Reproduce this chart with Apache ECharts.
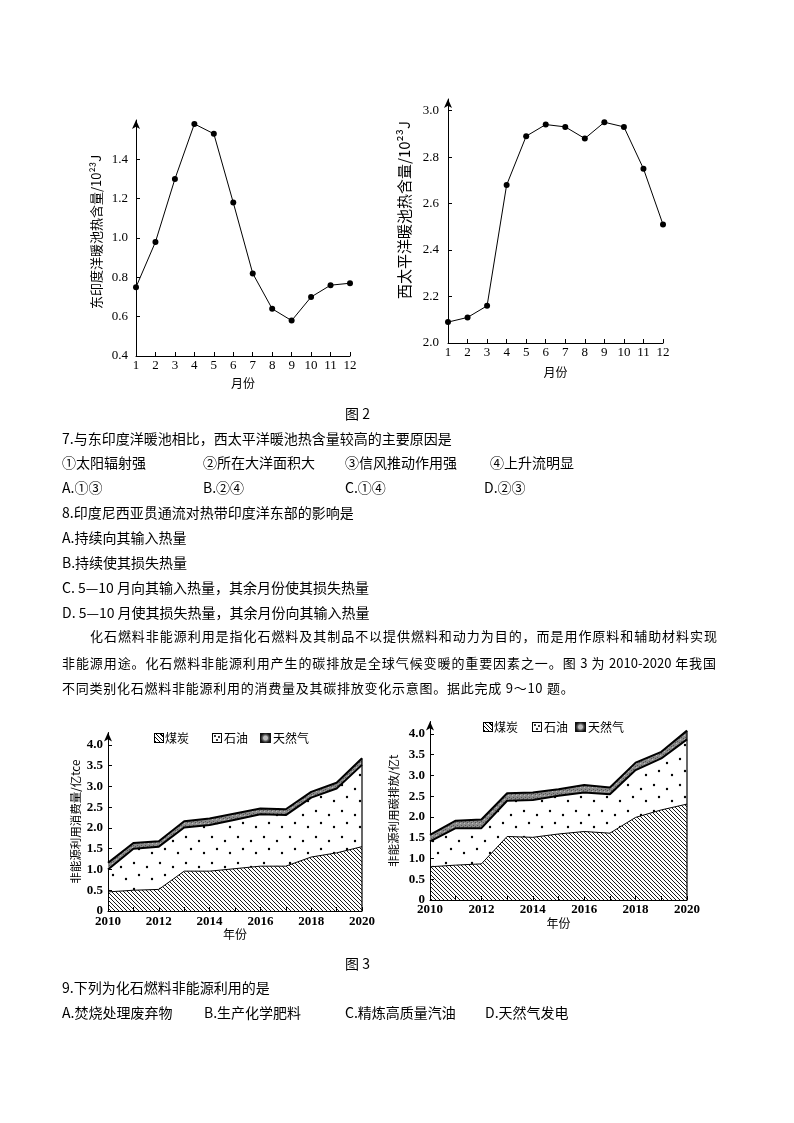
<!DOCTYPE html>
<html><head><meta charset="utf-8">
<script src="https://cdn.jsdelivr.net/npm/echarts@6.0.0/dist/echarts.min.js"></script>
<style>
body{margin:0;background:#fff;}
#c{position:absolute;left:0;top:0;width:794px;height:1123px;}
.t{position:absolute;font-family:"Noto Sans CJK SC";font-size:14px;line-height:18px;color:#000;white-space:nowrap;z-index:2;}
.j{font-size:13px;text-align:justify;text-align-last:justify;white-space:normal;height:18px;overflow:visible;}
.p3{font-size:13px;letter-spacing:0.75px;}
.lg{position:absolute;font-family:"Noto Sans CJK SC";font-size:12px;line-height:14px;color:#000;z-index:2;white-space:nowrap;}
.ic{position:absolute;box-sizing:border-box;z-index:2;}
.coal{border:1px solid #000;background:repeating-linear-gradient(45deg,#000 0 1px,#fff 1px 3px);}
.oil{border:1px solid #000;background:#fff;}
.oil i{position:absolute;width:2px;height:2px;background:#000;border-radius:1px;}
.gas{background:radial-gradient(circle,#bbb 0 2px,#666 3px,#111 5px);}
</style></head><body>
<div id="c"></div>

<div class="t" style="left:345px;top:404px;">图 2</div>
<div class="t" style="left:62px;top:429px;">7.与东印度洋暖池相比，西太平洋暖池热含量较高的主要原因是</div>
<div class="t" style="left:62px;top:453px;">①太阳辐射强</div>
<div class="t" style="left:203px;top:453px;">②所在大洋面积大</div>
<div class="t" style="left:345px;top:453px;">③信风推动作用强</div>
<div class="t" style="left:490px;top:453px;">④上升流明显</div>
<div class="t" style="left:62px;top:478px;">A.①③</div>
<div class="t" style="left:203px;top:478px;">B.②④</div>
<div class="t" style="left:345px;top:478px;">C.①④</div>
<div class="t" style="left:484px;top:478px;">D.②③</div>
<div class="t" style="left:62px;top:503px;">8.印度尼西亚贯通流对热带印度洋东部的影响是</div>
<div class="t" style="left:62px;top:528px;">A.持续向其输入热量</div>
<div class="t" style="left:62px;top:553px;">B.持续使其损失热量</div>
<div class="t" style="left:62px;top:578px;">C. 5—10 月向其输入热量，其余月份使其损失热量</div>
<div class="t" style="left:62px;top:603px;">D. 5—10 月使其损失热量，其余月份向其输入热量</div>
<div class="t j" style="left:90px;top:627px;width:627px;">化石燃料非能源利用是指化石燃料及其制品不以提供燃料和动力为目的，而是用作原料和辅助材料实现</div>
<div class="t j" style="left:62px;top:654px;width:654px;">非能源用途。化石燃料非能源利用产生的碳排放是全球气候变暖的重要因素之一。图 3 为 2010-2020 年我国</div>
<div class="t p3" style="left:62px;top:679px;">不同类别化石燃料非能源利用的消费量及其碳排放变化示意图。据此完成 9～10 题。</div>

<div class="ic coal" style="left:154px;top:733px;width:10px;height:10px;"></div>
<div class="lg" style="left:165px;top:731px;">煤炭</div>
<div class="ic oil" style="left:212px;top:733px;width:10px;height:10px;"><i style="left:1px;top:1px"></i><i style="left:5px;top:2px"></i><i style="left:3px;top:5px"></i></div>
<div class="lg" style="left:224px;top:731px;">石油</div>
<div class="ic gas" style="left:260px;top:733px;width:11px;height:10px;"></div>
<div class="lg" style="left:273px;top:731px;">天然气</div>

<div class="ic coal" style="left:483px;top:722px;width:10px;height:10px;"></div>
<div class="lg" style="left:494px;top:720px;">煤炭</div>
<div class="ic oil" style="left:532px;top:722px;width:10px;height:10px;"><i style="left:1px;top:1px"></i><i style="left:5px;top:2px"></i><i style="left:3px;top:5px"></i></div>
<div class="lg" style="left:544px;top:720px;">石油</div>
<div class="ic gas" style="left:575px;top:722px;width:11px;height:10px;"></div>
<div class="lg" style="left:588px;top:720px;">天然气</div>

<div class="t" style="left:345px;top:954px;">图 3</div>
<div class="t" style="left:62px;top:978px;">9.下列为化石燃料非能源利用的是</div>
<div class="t" style="left:62px;top:1003px;">A.焚烧处理废弃物</div>
<div class="t" style="left:204px;top:1003px;">B.生产化学肥料</div>
<div class="t" style="left:345px;top:1003px;">C.精炼高质量汽油</div>
<div class="t" style="left:485px;top:1003px;">D.天然气发电</div>

<script>
// ---- data ----
const months = ['1','2','3','4','5','6','7','8','9','10','11','12'];
const eastIndianHeat = [0.75,0.98,1.30,1.58,1.53,1.18,0.82,0.64,0.58,0.70,0.76,0.77];
const westPacificHeat = [2.09,2.11,2.16,2.68,2.89,2.94,2.93,2.88,2.95,2.93,2.75,2.51];
const years = ['2010','2011','2012','2013','2014','2015','2016','2017','2018','2019','2020'];
// consumption (亿tce)
const consumeCoal = [0.46,0.50,0.52,0.96,0.96,1.02,1.08,1.08,1.30,1.40,1.55];
const consumeOil  = [0.54,1.00,1.03,1.05,1.11,1.18,1.25,1.23,1.43,1.55,1.97];
const consumeGas  = [0.16,0.14,0.13,0.15,0.16,0.15,0.14,0.14,0.14,0.14,0.16];
// carbon emission (亿t)
const emitCoal = [0.80,0.84,0.87,1.53,1.51,1.59,1.65,1.61,1.99,2.17,2.31];
const emitOil  = [0.61,0.89,0.86,0.86,0.90,0.92,0.94,0.94,1.14,1.24,1.56];
const emitGas  = [0.16,0.18,0.21,0.18,0.18,0.16,0.18,0.16,0.18,0.16,0.21];
const legendNames = ['煤炭','石油','天然气'];

// ---- patterns ----
function hatch(){const c=document.createElement('canvas');c.width=c.height=4;const g=c.getContext('2d');
 g.strokeStyle='#000';g.lineWidth=0.9;g.beginPath();g.moveTo(-1,-1);g.lineTo(5,5);g.moveTo(-1,3);g.lineTo(1,5);g.moveTo(3,-1);g.lineTo(5,1);g.stroke();return c;}
function dots(){const c=document.createElement('canvas');c.width=c.height=26;const g=c.getContext('2d');
 g.fillStyle='#000';[[4,5],[17,9],[9,17],[22,21]].forEach(p=>{g.beginPath();g.arc(p[0],p[1],1.2,0,Math.PI*2);g.fill();});return c;}
function gasPat(){const c=document.createElement('canvas');c.width=c.height=4;const g=c.getContext('2d');
 g.fillStyle='#8a8a8a';g.fillRect(0,0,4,4);g.fillStyle='#555';g.fillRect(1,1,1,1);g.fillRect(3,2,1,1);g.fillStyle='#bbb';g.fillRect(0,3,1,1);return c;}
const pHatch={image:hatch(),repeat:'repeat'}, pDots={image:dots(),repeat:'repeat'}, pGas={image:gasPat(),repeat:'repeat'};

const serif='Liberation Serif', cjk='Noto Sans CJK SC';
const black={color:'#000',width:1};

function catX(gi,data,nameGap,labelMargin,fs,labelInterval,weight){
 return {gridIndex:gi,type:'category',data:data,boundaryGap:false,
  axisLine:{lineStyle:black},axisTick:{inside:true,length:4,interval:0,lineStyle:black},
  axisLabel:{margin:labelMargin,color:'#000',fontFamily:serif,fontSize:fs,fontWeight:weight,interval:labelInterval},
  splitLine:{show:false},name:gi<2?'月份':'年份',nameLocation:'middle',nameGap:nameGap,
  nameTextStyle:{fontFamily:cjk,fontSize:12,color:'#000'}};
}
function valY(gi,min,max,interval,name,nameGap,nameSize,pad,labelMargin,fmt,weight){
 return {gridIndex:gi,type:'value',min:min,max:max,interval:interval,
  axisLine:{show:true,lineStyle:black,symbol:['none','arrow'],symbolSize:[6,9]},
  axisTick:{show:true,inside:true,length:4,lineStyle:black},
  axisLabel:{margin:labelMargin,color:'#000',fontFamily:serif,fontSize:13,fontWeight:weight,showMaxLabel:false,formatter:fmt},
  splitLine:{show:false},name:name,nameLocation:'middle',nameRotate:90,nameGap:nameGap,
  nameTextStyle:{fontFamily:cjk,fontSize:nameSize,color:'#000',padding:pad}};
}
const f1=v=>v.toFixed(1);
const f0=v=>v===0?'0':v.toFixed(1);

function stackSeries(gi,coal,oil,gas){
 const total=coal.map((v,i)=>v+oil[i]+gas[i]);
 const base={type:'line',xAxisIndex:gi,yAxisIndex:gi,stack:'s'+gi,symbol:'none',showSymbol:false,silent:true};
 return [
  Object.assign({},base,{name:legendNames[0],data:coal,lineStyle:{color:'#000',width:1},areaStyle:{color:pHatch,opacity:1}}),
  Object.assign({},base,{name:legendNames[1],data:oil,lineStyle:{color:'#000',width:2},areaStyle:{color:pDots,opacity:1}}),
  Object.assign({},base,{name:legendNames[2],data:gas,lineStyle:{color:'#000',width:2},areaStyle:{color:pGas,opacity:1}}),
  {type:'line',xAxisIndex:gi,yAxisIndex:gi,symbol:'none',silent:true,lineStyle:{color:'#000',width:1.2},
   data:[[years[years.length-1],0],[years[years.length-1],total[total.length-1]]]}
 ];
}

const chart=echarts.init(document.getElementById('c'),null,{renderer:'canvas'});
chart.setOption({
 animation:false,
 grid:[
  {left:136,top:120,width:214,height:236,outerBoundsMode:'none'},
  {left:448,top:99,width:215,height:244,outerBoundsMode:'none'},
  {left:108,top:732.5,width:254,height:178.5,outerBoundsMode:'none'},
  {left:430,top:721.5,width:257,height:178.5,outerBoundsMode:'none'}
 ],
 xAxis:[
  catX(0,months,21,3,13,0,'normal'),
  catX(1,months,23,3,13,0,'normal'),
  catX(2,years,15,4,13,1,'bold'),
  catX(3,years,17,3,13,1,'bold')
 ],
 yAxis:[
  valY(0,0.4,1.6,0.2,'东印度洋暖池热含量/10²³J',33,13,[0,0,0,12],8,f1,'normal'),
  valY(1,2.0,3.05,0.2,'西太平洋暖池热含量/10²³J',36,15,[0,0,0,22],9,f1,'normal'),
  valY(2,0,4.3,0.5,'非能源利用消费量/亿tce',27,11.5,[0,0,0,0],5,f0,'bold'),
  valY(3,0,4.3,0.5,'非能源利用碳排放/亿t',31,11.5,[0,0,0,0],5,f0,'bold')
 ],
 series:[
  {type:'line',xAxisIndex:0,yAxisIndex:0,data:eastIndianHeat,symbol:'circle',symbolSize:6,
   itemStyle:{color:'#000'},lineStyle:{color:'#000',width:1}},
  {type:'line',xAxisIndex:1,yAxisIndex:1,data:westPacificHeat,symbol:'circle',symbolSize:6,
   itemStyle:{color:'#000'},lineStyle:{color:'#000',width:1}}
 ].concat(stackSeries(2,consumeCoal,consumeOil,consumeGas))
  .concat(stackSeries(3,emitCoal,emitOil,emitGas))
});
</script>
</body></html>
